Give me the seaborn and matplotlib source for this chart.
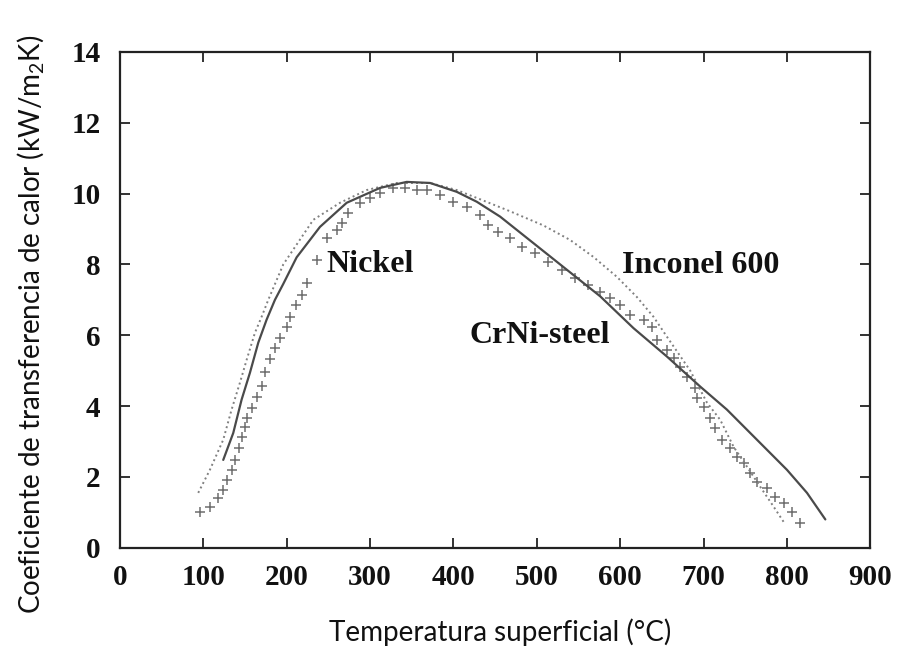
import numpy as np
import pandas as pd
import matplotlib
matplotlib.use("Agg")
import matplotlib.pyplot as plt
import seaborn as sns

# --- data ---
solid_x = [124, 136, 146, 156, 166, 176, 186, 196, 212, 240, 272, 312, 344, 372, 404,
           428, 456, 496, 536, 576, 616, 656, 696, 728, 764, 800, 824, 846]
solid_y = [2.48, 3.24, 4.18, 4.94, 5.79, 6.44, 7.0, 7.45, 8.2, 9.06, 9.74, 10.16, 10.33,
           10.3, 10.05, 9.77, 9.35, 8.6, 7.85, 7.1, 6.2, 5.4, 4.55, 3.9, 3.05, 2.2, 1.55, 0.8]

dotted_x = [94, 108, 124, 134, 144, 152, 162, 170, 178, 196, 232, 264, 296, 332, 372, 404,
            432, 468, 508, 540, 568, 596, 620, 640, 656, 684, 704, 720, 736, 752, 768, 784, 796]
dotted_y = [1.55, 2.2, 3.05, 3.9, 4.66, 5.3, 6.07, 6.52, 7.0, 8.0, 9.26, 9.74, 10.1, 10.3,
            10.3, 10.1, 9.84, 9.5, 9.1, 8.69, 8.21, 7.65, 7.08, 6.52, 5.96, 5.0, 4.1,
            3.61, 2.85, 2.29, 1.72, 1.16, 0.73]

plus_x = [96, 108, 118, 124, 128, 134, 138, 143, 146, 150, 152, 158, 164, 170, 174, 180,
          186, 192, 200, 204, 211, 218, 224, 236, 248, 260, 266, 274, 288, 300, 312, 328,
          342, 356, 368, 384, 400, 416, 432, 442, 454, 468, 482, 498, 514, 530, 546, 562,
          576, 588, 600, 612, 628, 638, 644, 656, 664, 672, 680, 690, 692, 700, 708, 714,
          722, 732, 740, 748, 756, 764, 776, 786, 796, 806, 816]
plus_y = [1.02, 1.16, 1.41, 1.64, 1.92, 2.20, 2.48, 2.82, 3.13, 3.42, 3.67, 3.95, 4.26,
          4.57, 4.97, 5.33, 5.64, 5.93, 6.24, 6.52, 6.86, 7.14, 7.48, 8.13, 8.75, 8.98,
          9.17, 9.46, 9.74, 9.88, 10.02, 10.16, 10.16, 10.10, 10.10, 9.96, 9.77, 9.62,
          9.40, 9.12, 8.92, 8.75, 8.50, 8.33, 8.07, 7.85, 7.62, 7.42, 7.23, 7.06, 6.86,
          6.58, 6.44, 6.24, 5.87, 5.59, 5.36, 5.11, 4.83, 4.52, 4.23, 3.98, 3.67, 3.39,
          3.05, 2.82, 2.57, 2.40, 2.12, 1.86, 1.69, 1.44, 1.27, 1.02, 0.71]

labels = ["Nickel", "Inconel 600", "CrNi-steel"]
label_x = [300, 696, 503]
label_y = [7.99, 7.96, 5.98]

x_ticks = [0, 100, 200, 300, 400, 500, 600, 700, 800, 900]
y_ticks = [0, 2, 4, 6, 8, 10, 12, 14]

xlabel = "Temperatura superficial (°C)"
ylabel = "Coeficiente de transferencia de calor (kW/m$_2$K)"

# --- plotting ---
sns.set_style("ticks")
plt.rcParams["font.family"] = ["Liberation Serif", "DejaVu Serif"]
plt.rcParams["mathtext.fontset"] = "custom"
plt.rcParams["mathtext.rm"] = "Lato"

fig = plt.figure(figsize=(9.01, 6.49), dpi=100)
ax = fig.add_axes([0.133, 0.156, 0.833, 0.764])

df_solid = pd.DataFrame({"x": solid_x, "y": solid_y})
df_dot = pd.DataFrame({"x": dotted_x, "y": dotted_y})
df_plus = pd.DataFrame({"x": plus_x, "y": plus_y})

sns.lineplot(data=df_dot, x="x", y="y", ax=ax, color="#808080", lw=1.4,
             linestyle=(0, (1, 1.6)), sort=False)
sns.lineplot(data=df_solid, x="x", y="y", ax=ax, color="#4a4a4a", lw=1.6, sort=False)
sns.scatterplot(data=df_plus, x="x", y="y", ax=ax, marker="+", s=42, color="#6e6e6e",
                linewidth=1.1)

for t, xx, yy in zip(labels, label_x, label_y):
    ax.text(xx, yy, t, ha="center", va="center", fontsize=23, fontweight="bold",
            family=["Liberation Serif"], color="#111111")

ax.set_xlim(0, 900)
ax.set_ylim(0, 14)
ax.set_xticks(x_ticks)
ax.set_yticks(y_ticks)
ax.set_xticklabels([str(v) for v in x_ticks], fontsize=21, fontweight="bold")
ax.set_yticklabels([str(v) for v in y_ticks], fontsize=21, fontweight="bold")
ax.tick_params(direction="in", length=7, width=1.3, top=True, right=True,
               colors="#222222", labelcolor="#111111")
ax.tick_params(axis="y", pad=14)
ax.tick_params(axis="x", pad=12)
for s in ax.spines.values():
    s.set_linewidth(1.6)
    s.set_color("#222222")

ax.set_xlabel(xlabel, fontsize=20, family=["Lato"], color="#111111")
ax.set_ylabel(ylabel, fontsize=20, family=["Lato"], color="#111111")
ax.xaxis.set_label_coords(0.507, -0.143)
ax.yaxis.set_label_coords(-0.097, 0.45)

fig.savefig("out.png", dpi=100)
